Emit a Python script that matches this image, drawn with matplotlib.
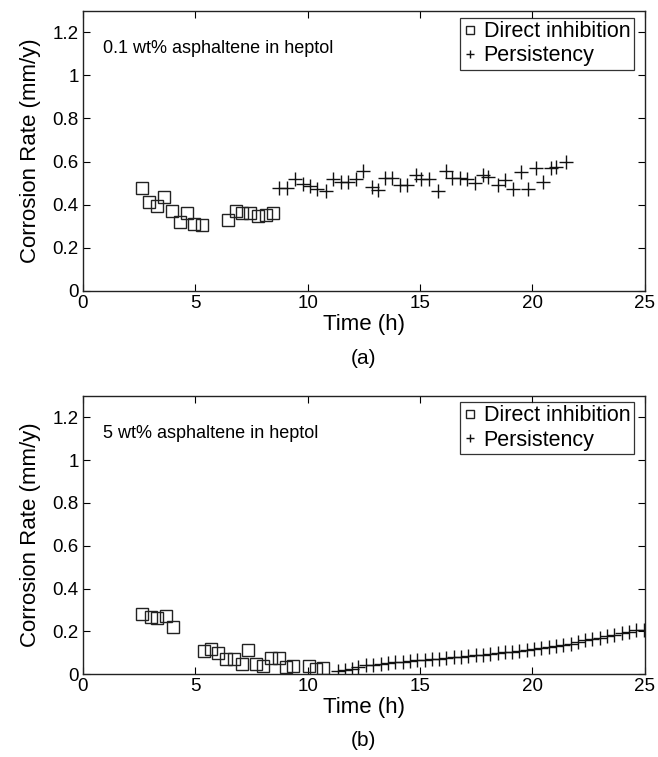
import matplotlib
matplotlib.use('Agg')
import matplotlib.pyplot as plt

plt.rcParams['font.family'] = ['Liberation Sans', 'DejaVu Sans']

# --- (a) 0.1 wt% asphaltene ---
a_direct_t = [2.64, 2.95, 3.28, 3.62, 3.97, 4.31, 4.61, 4.95, 5.31,
              6.45, 6.79, 7.09, 7.43, 7.77, 8.13, 8.47]
a_direct_cr = [0.478, 0.412, 0.395, 0.437, 0.370, 0.318, 0.360, 0.310, 0.304,
               0.329, 0.372, 0.360, 0.360, 0.347, 0.352, 0.360]
a_pers_t = [8.73, 9.09, 9.43, 9.77, 10.10, 10.42, 10.80, 11.13, 11.50, 11.80,
            12.14, 12.47, 12.84, 13.14, 13.43, 13.73, 14.10, 14.43, 14.80, 15.04,
            15.40, 15.78, 16.15, 16.40, 16.77, 17.07, 17.44, 17.78, 18.03, 18.45,
            18.77, 19.14, 19.48, 19.78, 20.14, 20.45, 20.82, 21.04, 21.49]
a_pers_cr = [0.478, 0.478, 0.517, 0.494, 0.486, 0.475, 0.464, 0.518, 0.503, 0.506,
             0.518, 0.557, 0.483, 0.468, 0.526, 0.526, 0.490, 0.490, 0.537, 0.518,
             0.520, 0.464, 0.556, 0.525, 0.525, 0.517, 0.500, 0.537, 0.529, 0.490,
             0.514, 0.475, 0.550, 0.471, 0.568, 0.506, 0.568, 0.575, 0.599]

# --- (b) 5 wt% asphaltene ---
b_direct_t = [2.65, 3.01, 3.31, 3.68, 4.02, 5.38, 5.68, 6.02, 6.36, 6.72, 7.06,
              7.35, 7.68, 8.02, 8.39, 8.73, 9.02, 9.36, 10.05, 10.37, 10.69]
b_direct_cr = [0.279, 0.267, 0.264, 0.270, 0.220, 0.107, 0.116, 0.099, 0.070, 0.070, 0.045,
               0.112, 0.045, 0.039, 0.076, 0.076, 0.033, 0.039, 0.039, 0.023, 0.027]
b_pers_t = [11.33, 11.66, 11.95, 12.25, 12.60, 12.92, 13.25, 13.57, 13.90, 14.22,
            14.55, 14.87, 15.20, 15.52, 15.85, 16.17, 16.50, 16.82, 17.15, 17.47,
            17.80, 18.12, 18.45, 18.77, 19.10, 19.42, 19.75, 20.07, 20.40, 20.72,
            21.05, 21.37, 21.70, 22.02, 22.35, 22.67, 23.00, 23.32, 23.65, 23.97,
            24.30, 24.62, 24.95]
b_pers_cr = [0.014, 0.019, 0.022, 0.031, 0.042, 0.042, 0.045, 0.052, 0.057, 0.057,
             0.060, 0.065, 0.065, 0.068, 0.070, 0.076, 0.078, 0.080, 0.084, 0.088,
             0.089, 0.092, 0.098, 0.102, 0.104, 0.108, 0.114, 0.118, 0.121, 0.126,
             0.132, 0.136, 0.142, 0.150, 0.158, 0.164, 0.170, 0.176, 0.183, 0.190,
             0.198, 0.204, 0.208]

x_ticks = [0, 5, 10, 15, 20, 25]
y_ticks = [0, 0.2, 0.4, 0.6, 0.8, 1.0, 1.2]
y_tick_labels = ['0', '0.2', '0.4', '0.6', '0.8', '1', '1.2']


def draw_panel(ax, t_d, cr_d, t_p, cr_p, note, tag, leg_y):
    ax.plot(t_d, cr_d, ls='none', marker='s', ms=9, mfc='none', mec='#222222',
            mew=1.0, label='Direct inhibition')
    ax.plot(t_p, cr_p, ls='none', marker='+', ms=10, mec='#111111', mew=1.0,
            label='Persistency')
    ax.set_xlim(0, 25)
    ax.set_ylim(0, 1.3)
    ax.set_xticks(x_ticks)
    ax.set_yticks(y_ticks)
    ax.set_yticklabels(y_tick_labels)
    ax.tick_params(direction='in', top=True, right=True, length=5, width=0.8,
                   labelsize=13.5, pad=3)
    for s in ax.spines.values():
        s.set_linewidth(1.0)
        s.set_color('#222222')
    ax.set_xlabel('Time (h)', fontsize=16, labelpad=1)
    ax.set_ylabel('Corrosion Rate (mm/y)', fontsize=16, labelpad=8)
    ax.text(0.9, 1.125, note, fontsize=13, va='center', ha='left')
    leg = ax.legend(loc='upper right', bbox_to_anchor=(0.98, leg_y), borderaxespad=0,
                    fontsize=15.5, frameon=True, fancybox=False, edgecolor='black',
                    handlelength=0.6, handletextpad=0.35, borderpad=0.15,
                    labelspacing=0.15, markerscale=0.6)
    leg.get_frame().set_linewidth(0.9)
    ax.text(0.5, -0.24, tag, transform=ax.transAxes, ha='center', va='center',
            fontsize=15)


fig = plt.figure(figsize=(6.58, 7.57), dpi=100)
ax1 = fig.add_axes([0.126, 0.6156, 0.854, 0.3705])
ax2 = fig.add_axes([0.126, 0.1096, 0.854, 0.3672])

draw_panel(ax1, a_direct_t, a_direct_cr, a_pers_t, a_pers_cr,
           '0.1 wt% asphaltene in heptol', '(a)', 0.974)
draw_panel(ax2, b_direct_t, b_direct_cr, b_pers_t, b_pers_cr,
           '5 wt% asphaltene in heptol', '(b)', 0.978)

fig.savefig('out.png', dpi=100)
